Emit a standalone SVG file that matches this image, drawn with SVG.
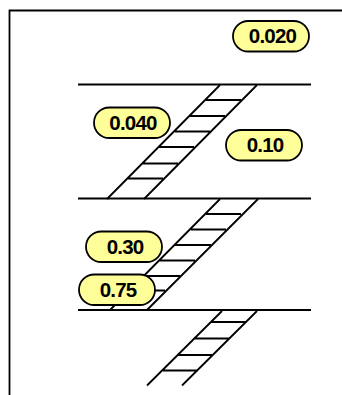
<svg xmlns="http://www.w3.org/2000/svg" width="342" height="395" viewBox="0 0 342 395">
<style>
.l{stroke:#000;stroke-width:1.8;fill:none}
.b{fill:#ffff99;stroke:#000;stroke-width:1.8}
.t{font-family:"Liberation Sans",Arial,sans-serif;font-size:20.5px;font-weight:bold;text-anchor:middle;fill:#000;letter-spacing:-0.8px}
</style>
<rect width="342" height="395" fill="#fff"/>
<g id="connectors">
<path class="l" d="M342 10.500H9.500V395"/>
<path class="l" d="M78 84.500H311M78 198.500H311M78 310H311"/>
<path class="l" d="M220 85L107 199M257 85L144 199M206 100H241M190 116H225M175 131.500H210M159 147H194M143 163.500H178M128 178.500H163"/>
<path class="l" d="M220 199L110 310M258 199L147 310M206 214H241M191 229.500H226M175 245H211M159 260.500H195M145 276H180M150 290.500H165"/>
<path class="l" d="M222 311L147 385.500M257 311L182 385.500M211 322H246M194 338.500H229M178 355H212M163 370.500H198"/>
</g>
<g id="n1"><rect class="b" x="233" y="21" width="76" height="30.500" rx="15.250"/><text class="t" x="272.500" y="43">0.020</text></g>
<g id="n2"><rect class="b" x="94" y="107.500" width="76" height="30.500" rx="15.250"/><text class="t" x="133" y="129.500">0.040</text></g>
<g id="n3"><rect class="b" x="226" y="130" width="76" height="30.500" rx="15.250"/><text class="t" x="265" y="152">0.10</text></g>
<g id="n4"><rect class="b" x="86" y="231.500" width="76" height="30.500" rx="15.250"/><text class="t" x="125" y="254">0.30</text></g>
<g id="n5"><rect class="b" x="79" y="274.500" width="76" height="30.500" rx="15.250"/><text class="t" x="118" y="296.500">0.75</text></g>
</svg>
